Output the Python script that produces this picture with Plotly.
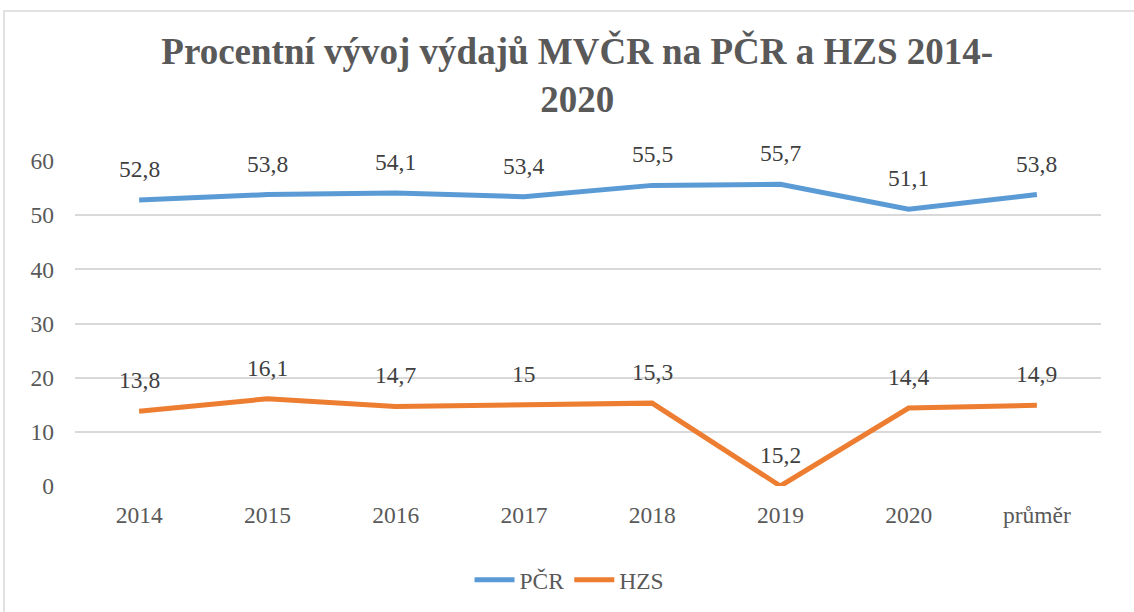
import plotly.graph_objects as go

categories = ["2014", "2015", "2016", "2017", "2018", "2019", "2020", "průměr"]
pcr_values = [52.8, 53.8, 54.1, 53.4, 55.5, 55.7, 51.1, 53.8]
hzs_values = [13.8, 16.1, 14.7, 15.0, 15.3, 0, 14.4, 14.9]
pcr_labels = ["52,8", "53,8", "54,1", "53,4", "55,5", "55,7", "51,1", "53,8"]
hzs_labels = ["13,8", "16,1", "14,7", "15", "15,3", "15,2", "14,4", "14,9"]

BLUE = "#5B9BD5"
ORANGE = "#ED7D31"
FONT = "Liberation Serif, Times New Roman, serif"

fig = go.Figure()
fig.add_trace(go.Scatter(x=categories, y=pcr_values, mode="lines", name="PČR",
                         line=dict(color=BLUE, width=5)))
fig.add_trace(go.Scatter(x=categories, y=hzs_values, mode="lines", name="HZS",
                         line=dict(color=ORANGE, width=5)))

annotations = []
for vals, labs in ((pcr_values, pcr_labels), (hzs_values, hzs_labels)):
    for i, (v, t) in enumerate(zip(vals, labs)):
        annotations.append(dict(x=i, y=v, text=t, showarrow=False, yshift=31,
                                font=dict(family=FONT, size=23.5, color="#404040")))

fig.update_layout(
    width=1134, height=612,
    margin=dict(l=75, r=33, t=161, b=126, autoexpand=False),
    paper_bgcolor="white", plot_bgcolor="white",
    title=dict(text="<b>Procentní vývoj výdajů MVČR na PČR a HZS 2014-<br>2020</b>",
               x=0.509, xanchor="center", y=0.895, yanchor="top",
               font=dict(family=FONT, size=37, color="#595959")),
    font=dict(family=FONT, size=23.5, color="#595959"),
    xaxis=dict(type="category", range=[-0.5, len(categories) - 0.5], automargin=False,
               showgrid=False, showline=False, zeroline=False,
               tickfont=dict(family=FONT, size=23.5, color="#595959"),
               ticklabelstandoff=12),
    yaxis=dict(range=[0, 60], dtick=10, showgrid=True, gridcolor="#D9D9D9", gridwidth=1.5,
               zeroline=False, showline=False, automargin=False,
               tickfont=dict(family=FONT, size=23.5, color="#595959"),
               ticklabelstandoff=20),
    legend=dict(orientation="h", x=0.482, xanchor="center", y=-0.289, yanchor="middle",
                font=dict(family=FONT, size=23.5, color="#595959"), itemwidth=40),
    annotations=annotations,
    shapes=[dict(type="rect", xref="paper", yref="paper",
                 x0=-0.0692, x1=1.04, y0=-0.45, y1=1.4615,
                 line=dict(color="#D9D9D9", width=1.5), fillcolor="rgba(0,0,0,0)", layer="below")],
)

fig.write_html("out.html", config={"displayModeBar": False},
               post_script="document.body.style.margin='0';")
